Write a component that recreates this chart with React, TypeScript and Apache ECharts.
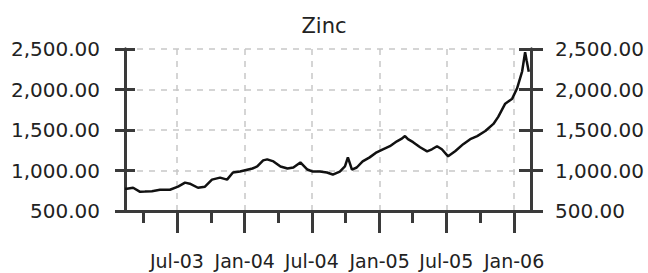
import React, { useEffect, useRef } from "react";
import * as echarts from "echarts";

const TITLE = "Zinc";

const DATES: string[] = [
  "2003-02-10", "2003-02-15", "2003-03-04", "2003-03-23", "2003-04-05", "2003-04-24",
  "2003-05-16", "2003-06-12", "2003-07-04", "2003-07-23", "2003-08-05", "2003-08-27",
  "2003-09-15", "2003-10-04", "2003-10-26", "2003-11-14", "2003-11-30", "2003-12-19",
  "2004-01-22", "2004-02-04", "2004-02-20", "2004-03-02", "2004-03-19", "2004-04-07",
  "2004-04-26", "2004-05-12", "2004-05-31", "2004-06-19", "2004-07-04", "2004-07-23",
  "2004-08-11", "2004-08-27", "2004-09-15", "2004-09-29", "2004-10-07", "2004-10-18",
  "2004-10-31", "2004-11-16", "2004-12-05", "2004-12-24", "2005-01-10", "2005-01-29",
  "2005-02-17", "2005-03-01", "2005-03-11", "2005-03-19", "2005-04-02", "2005-04-21",
  "2005-05-10", "2005-05-23", "2005-06-06", "2005-06-19", "2005-07-06", "2005-07-25",
  "2005-08-16", "2005-09-04", "2005-09-23", "2005-10-15", "2005-11-06", "2005-11-19",
  "2005-12-08", "2005-12-27", "2006-01-09", "2006-01-23", "2006-01-31", "2006-02-04",
  "2006-02-10",
];

const PRICES: number[] = [
  775, 775, 787, 737, 740, 745,
  762, 762, 800, 850, 837, 787,
  800, 887, 912, 887, 975, 987,
  1025, 1050, 1125, 1137, 1112, 1050,
  1025, 1037, 1100, 1012, 987, 987,
  975, 950, 987, 1050, 1162, 1012,
  1037, 1112, 1162, 1225, 1262, 1300,
  1360, 1390, 1425, 1387, 1350, 1287,
  1237, 1262, 1300, 1262, 1175, 1237,
  1325, 1387, 1425, 1487, 1575, 1662,
  1825, 1887, 2012, 2225, 2460, 2360,
  2220,
];

const X_MIN = "2003-02-10";
const X_MAX = "2006-02-16";
const MAJOR_TICKS: string[] = ["2003-07-01", "2004-01-01", "2004-07-01", "2005-01-01", "2005-07-01", "2006-01-01"];
const MINOR_TICKS: string[] = ["2003-04-01", "2003-10-01", "2004-04-01", "2004-10-01", "2005-04-01", "2005-10-01"];
const MONTHS: string[] = ["Jan", "Feb", "Mar", "Apr", "May", "Jun", "Jul", "Aug", "Sep", "Oct", "Nov", "Dec"];

const Y_MIN = 500;
const Y_MAX = 2500;
const Y_STEP = 500;

const ts = (s: string) => {
  const [y, m, d] = s.split("-").map(Number);
  return new Date(y, m - 1, d).getTime();
};

const fmtY = (v: number) =>
  v.toLocaleString("en-US", { minimumFractionDigits: 2, maximumFractionDigits: 2 });

const fmtX = (v: number) => {
  const d = new Date(v);
  return MONTHS[d.getMonth()] + "-" + String(d.getFullYear()).slice(2);
};

export default function App() {
  const ref = useRef<HTMLDivElement>(null);
  useEffect(() => {
    if (!ref.current) return;
    const chart = echarts.init(ref.current, undefined, { renderer: "svg" });
    const axisColor = "#3a3a3a";
    const font = "'DejaVu Sans', sans-serif";
    const gridStyle = { color: "#c8c8c8", type: [6, 6], width: 1.5 };
    const baseY = {
      type: "value",
      min: Y_MIN,
      max: Y_MAX,
      interval: Y_STEP,
      axisLine: { show: true, lineStyle: { color: axisColor, width: 3 } },
    };
    chart.setOption({
      animation: false,
      backgroundColor: "#ffffff",
      title: {
        text: TITLE,
        left: "center",
        top: 10,
        textStyle: { fontFamily: font, fontSize: 21, fontWeight: "normal", color: "#222" },
      },
      grid: { left: 125, right: 117, top: 49, bottom: 62, containLabel: false },
      xAxis: [
        {
          type: "value",
          min: ts(X_MIN),
          max: ts(X_MAX),
          position: "bottom",
          axisLine: { show: true, lineStyle: { color: axisColor, width: 3 } },
          axisTick: {
            show: true,
            customValues: MAJOR_TICKS.map(ts),
            length: 22,
            lineStyle: { color: axisColor, width: 3 },
          },
          axisLabel: {
            customValues: MAJOR_TICKS.map(ts),
            formatter: fmtX,
            margin: 40,
            lineHeight: 20,
            fontFamily: font,
            fontSize: 19,
            color: "#222",
          },
          splitLine: { show: true, lineStyle: gridStyle },
        },
        {
          type: "value",
          min: ts(X_MIN),
          max: ts(X_MAX),
          position: "bottom",
          axisLine: { show: false },
          axisTick: {
            show: true,
            customValues: MINOR_TICKS.map(ts),
            length: 12,
            lineStyle: { color: axisColor, width: 3 },
          },
          axisLabel: { show: false },
          splitLine: { show: false },
        },
      ],
      yAxis: [
        {
          ...baseY,
          position: "left",
          axisTick: { show: true, length: 10, lineStyle: { color: axisColor, width: 3 } },
          axisLabel: { formatter: fmtY, margin: 25, fontFamily: font, fontSize: 20, color: "#222" },
          splitLine: { show: true, lineStyle: gridStyle },
        },
        {
          ...baseY,
          position: "left",
          axisTick: { show: true, inside: true, length: 10, lineStyle: { color: axisColor, width: 3 } },
          axisLabel: { show: false },
          splitLine: { show: false },
        },
        {
          ...baseY,
          position: "right",
          axisTick: { show: true, length: 12, lineStyle: { color: axisColor, width: 3 } },
          axisLabel: { formatter: fmtY, margin: 24, fontFamily: font, fontSize: 20, color: "#222" },
          splitLine: { show: false },
        },
        {
          ...baseY,
          position: "right",
          axisTick: { show: true, inside: true, length: 12, lineStyle: { color: axisColor, width: 3 } },
          axisLabel: { show: false },
          splitLine: { show: false },
        },
      ],
      series: [
        {
          type: "line",
          xAxisIndex: 0,
          yAxisIndex: 0,
          data: DATES.map((d, i) => [ts(d), PRICES[i]]),
          showSymbol: false,
          symbol: "none",
          lineStyle: { color: "#111", width: 2.5 },
          z: 5,
        },
      ],
    });
    return () => chart.dispose();
  }, []);
  return (
    <div
      ref={ref}
      style={{ position: "absolute", left: 0, top: 0, width: 648, height: 273, background: "#fff" }}
    />
  );
}
